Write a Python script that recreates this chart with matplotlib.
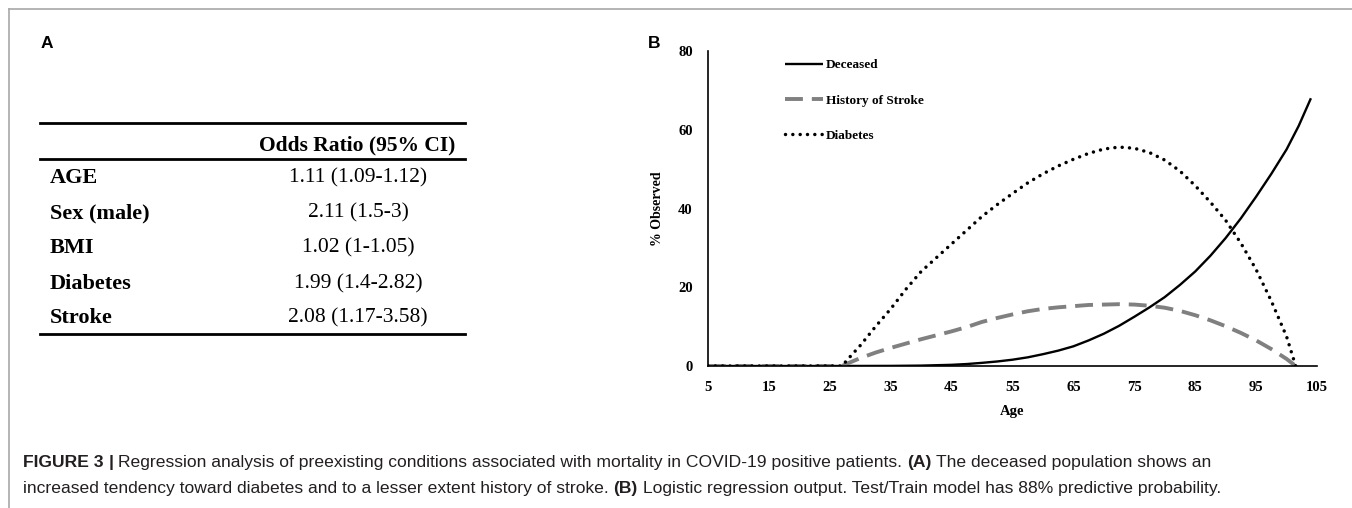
import matplotlib
matplotlib.use("Agg")
import matplotlib.pyplot as plt
from matplotlib.lines import Line2D

# ---------------- data ----------------
table_rows = ["AGE", "Sex (male)", "BMI", "Diabetes", "Stroke"]
table_values = ["1.11 (1.09-1.12)", "2.11 (1.5-3)", "1.02 (1-1.05)",
                "1.99 (1.4-2.82)", "2.08 (1.17-3.58)"]
table_header = "Odds Ratio (95% CI)"

age_deceased = [5, 15, 25, 35, 40, 42.5, 45, 47.5, 50, 52.5, 55, 57.5, 60, 62.5,
                65, 67.5, 70, 72.5, 75, 77.5, 80, 82.5, 85, 87.5, 90, 92.5,
                95, 97.5, 100, 102, 104]
deceased = [0, 0, 0, 0.03, 0.1, 0.2, 0.3, 0.5, 0.8, 1.15, 1.6, 2.2, 3.0, 3.9,
            5.0, 6.5, 8.2, 10.2, 12.5, 14.9, 17.5, 20.6, 24.0, 28.0, 32.5, 37.5,
            43.0, 48.8, 55.0, 61.0, 68.0]

age_cond = [5, 15, 27, 28, 30, 32.5, 35, 37.5, 40, 42.5, 45, 47.5, 50, 52.5, 55,
            57.5, 60, 62.5, 65, 67.5, 70, 72.5, 75, 77.5, 80, 82.5, 85, 87.5,
            90, 92.5, 95, 97.5, 100, 101.5]
stroke = [0, 0, 0, 0.7, 2.0, 3.4, 4.6, 5.7, 6.8, 7.8, 8.8, 9.9, 11.2, 12.2, 13.1,
          13.9, 14.5, 14.9, 15.2, 15.5, 15.6, 15.7, 15.6, 15.3, 14.8, 14.0, 12.9,
          11.6, 10.1, 8.4, 6.5, 4.3, 1.8, 0]
diabetes = [0, 0, 0, 1.8, 5.2, 10.0, 14.5, 19.5, 24.0, 27.5, 31.0, 34.5, 38.0,
            41.0, 43.8, 46.5, 48.8, 50.8, 52.5, 54.0, 55.1, 55.6, 55.3, 54.2,
            52.3, 49.5, 45.8, 41.6, 37.0, 31.2, 24.5, 16.5, 7.5, 0]

x_ticks = [5, 15, 25, 35, 45, 55, 65, 75, 85, 95, 105]
y_ticks = [0, 20, 40, 60, 80]

caption_line1 = [("FIGURE 3", "bold"), ("|", "bold"),
                 ("Regression analysis of preexisting conditions associated with "
                  "mortality in COVID-19 positive patients.", "normal"),
                 ("(A)", "bold"),
                 ("The deceased population shows an", "normal")]
caption_line2 = [("increased tendency toward diabetes and to a lesser extent "
                  "history of stroke.", "normal"),
                 ("(B)", "bold"),
                 ("Logistic regression output. Test/Train model has 88% "
                  "predictive probability.", "normal")]

# ---------------- figure ----------------
W, H = 1352, 508
fig = plt.figure(figsize=(W / 100, H / 100), dpi=100)
fig.patch.set_facecolor("white")

SERIF = ["Liberation Serif", "DejaVu Serif"]
SANS = ["Liberation Sans", "DejaVu Sans"]


def fx(px):
    return px / W


def fy(py):
    return 1 - py / H


# outer frame of the figure panel
fig.add_artist(Line2D([fx(9), fx(W + 5)], [fy(9), fy(9)], color="#a8a8a8",
                      lw=1.2, transform=fig.transFigure))
fig.add_artist(Line2D([fx(9), fx(9)], [fy(9), fy(H + 5)], color="#a8a8a8",
                      lw=1.2, transform=fig.transFigure))

# panel letters
fig.text(fx(47), fy(43), "A", family=SANS, weight="bold", fontsize=12.5,
         ha="center", va="center")
fig.text(fx(654), fy(43), "B", family=SANS, weight="bold", fontsize=12.5,
         ha="center", va="center")

# ---------------- panel A: table ----------------
for ly in (123, 159, 334):
    fig.add_artist(Line2D([fx(40), fx(465)], [fy(ly), fy(ly)], color="black",
                          lw=2.0, transform=fig.transFigure))

fig.text(fx(357), fy(145), table_header, family=SERIF, weight="bold",
         fontsize=15.5, ha="center", va="center")
row_y = [178, 213, 248, 284, 318]
for name, val, ry in zip(table_rows, table_values, row_y):
    fig.text(fx(50), fy(ry), name, family=SERIF, weight="bold", fontsize=16,
             ha="left", va="center")
    fig.text(fx(358), fy(ry), val, family=SERIF, fontsize=15.5,
             ha="center", va="center")

# ---------------- panel B: line chart ----------------
ax = fig.add_axes([fx(708), fy(366), fx(1317) - fx(708), fy(51) - fy(366)])
ax.plot(age_deceased, deceased, color="black", lw=1.7, label="Deceased",
        solid_capstyle="butt")
ax.plot(age_cond, stroke, color="#808080", lw=2.8, label="History of Stroke",
        linestyle=(0, (4.6, 2.3)), dash_capstyle="butt")
ax.plot(age_cond, diabetes, color="black", lw=2.5, label="Diabetes",
        linestyle=(0, (0.01, 2.1)), dash_capstyle="round")

ax.set_xlim(5, 105)
ax.set_ylim(0, 80)
ax.set_xticks(x_ticks)
ax.set_yticks(y_ticks)
for s in ("top", "right"):
    ax.spines[s].set_visible(False)
for s in ("left", "bottom"):
    ax.spines[s].set_linewidth(1.2)
ax.tick_params(length=0, pad=11)
for lab in ax.get_xticklabels() + ax.get_yticklabels():
    lab.set_fontfamily(SERIF)
    lab.set_fontweight("bold")
    lab.set_fontsize(10.5)
ax.set_xlabel("Age", family=SERIF, weight="bold", fontsize=10.5, labelpad=8)
ax.set_ylabel("% Observed", family=SERIF, weight="bold", fontsize=10,
              labelpad=10)

leg = ax.legend(loc="upper left", bbox_to_anchor=(fx(785), fy(59)),
                bbox_transform=fig.transFigure, frameon=False, borderpad=0,
                borderaxespad=0, handlelength=2.9, handletextpad=0.2,
                labelspacing=1.75,
                prop={"family": SERIF, "weight": "bold", "size": 9.5})

# ---------------- caption ----------------
fig.canvas.draw()
renderer = fig.canvas.get_renderer()


def width_of(txt, weight, size):
    t = fig.text(0, 0, txt, family=SANS, weight=weight, fontsize=size)
    w = t.get_window_extent(renderer).width
    t.remove()
    return w


def caption_line(parts, x0, ybase, size):
    gap = width_of("a a", "normal", size) - width_of("aa", "normal", size)
    x = x0
    for txt, weight in parts:
        t = fig.text(fx(x), fy(ybase), txt, family=SANS, weight=weight,
                     fontsize=size, color="#231f20", ha="left", va="baseline")
        x += t.get_window_extent(renderer).width + gap


caption_line(caption_line1, 23, 467, 12.6)
caption_line(caption_line2, 23, 493, 12.6)

fig.savefig("out.png", dpi=100, facecolor="white")
